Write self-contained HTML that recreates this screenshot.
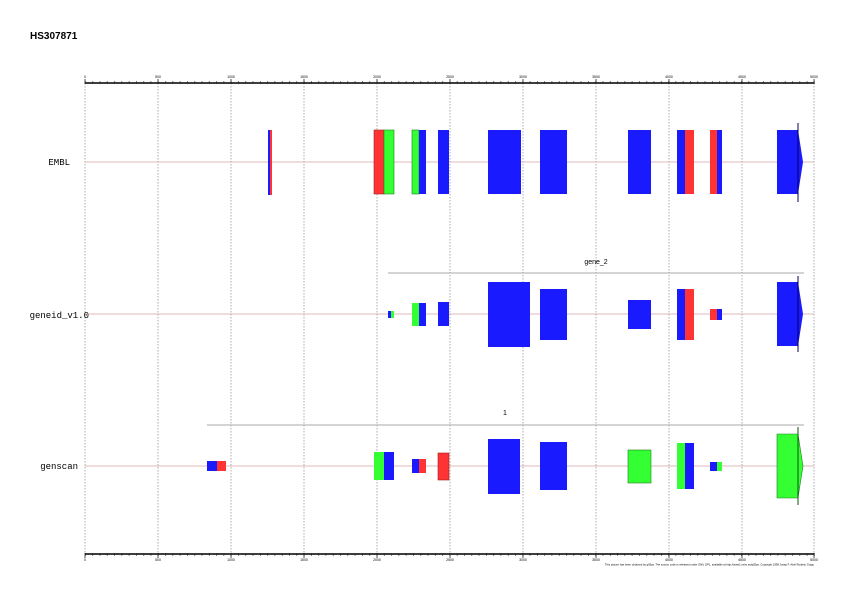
<!DOCTYPE html>
<html><head><meta charset="utf-8"><style>
html,body{margin:0;padding:0;background:#fff;}
svg{display:block;}
</style></head><body>
<svg width="842" height="595" viewBox="0 0 842 595" xmlns="http://www.w3.org/2000/svg">
<defs>
<pattern id="tk" x="85" y="0" width="7.29" height="10" patternUnits="userSpaceOnUse">
<rect x="0" y="0" width="0.7" height="10" fill="#444"/>
</pattern>
</defs>
<rect width="842" height="595" fill="#fff"/>
<text x="30" y="39" font-family="Liberation Sans, sans-serif" font-size="10" font-weight="bold" fill="#000">HS307871</text>
<!-- grid -->
<g stroke="#999" stroke-width="0.8" stroke-dasharray="1.5,1.5">
<line x1="85" y1="83" x2="85" y2="554"/><line x1="158" y1="83" x2="158" y2="554"/><line x1="231" y1="83" x2="231" y2="554"/><line x1="304" y1="83" x2="304" y2="554"/><line x1="377" y1="83" x2="377" y2="554"/><line x1="450" y1="83" x2="450" y2="554"/><line x1="523" y1="83" x2="523" y2="554"/><line x1="596" y1="83" x2="596" y2="554"/><line x1="669" y1="83" x2="669" y2="554"/><line x1="742" y1="83" x2="742" y2="554"/><line x1="814" y1="83" x2="814" y2="554"/>
</g>
<!-- minor ticks -->
<rect x="85" y="81" width="730" height="3" fill="url(#tk)"/>
<rect x="85" y="553" width="730" height="3" fill="url(#tk)"/>
<!-- major ticks -->
<g stroke="#222" stroke-width="0.8">
<line x1="85" y1="79" x2="85" y2="84"/><line x1="158" y1="79" x2="158" y2="84"/><line x1="231" y1="79" x2="231" y2="84"/><line x1="304" y1="79" x2="304" y2="84"/><line x1="377" y1="79" x2="377" y2="84"/><line x1="450" y1="79" x2="450" y2="84"/><line x1="523" y1="79" x2="523" y2="84"/><line x1="596" y1="79" x2="596" y2="84"/><line x1="669" y1="79" x2="669" y2="84"/><line x1="742" y1="79" x2="742" y2="84"/><line x1="814" y1="79" x2="814" y2="84"/>
<line x1="85" y1="553" x2="85" y2="558"/><line x1="158" y1="553" x2="158" y2="558"/><line x1="231" y1="553" x2="231" y2="558"/><line x1="304" y1="553" x2="304" y2="558"/><line x1="377" y1="553" x2="377" y2="558"/><line x1="450" y1="553" x2="450" y2="558"/><line x1="523" y1="553" x2="523" y2="558"/><line x1="596" y1="553" x2="596" y2="558"/><line x1="669" y1="553" x2="669" y2="558"/><line x1="742" y1="553" x2="742" y2="558"/><line x1="814" y1="553" x2="814" y2="558"/>
</g>
<!-- axes -->
<g stroke="#222">
<line x1="85" y1="83" x2="814" y2="83" stroke-width="1.8"/>
<line x1="85" y1="554" x2="814" y2="554" stroke-width="1.8"/>
</g>
<g font-family="Liberation Sans, sans-serif" font-size="3.5" fill="#000" text-anchor="middle">
<text x="85" y="78">0</text><text x="158" y="78">500</text><text x="231" y="78">1000</text><text x="304" y="78">1500</text><text x="377" y="78">2000</text><text x="450" y="78">2500</text><text x="523" y="78">3000</text><text x="596" y="78">3500</text><text x="669" y="78">4000</text><text x="742" y="78">4500</text><text x="814" y="78">5000</text>
<text x="85" y="561">0</text><text x="158" y="561">500</text><text x="231" y="561">1000</text><text x="304" y="561">1500</text><text x="377" y="561">2000</text><text x="450" y="561">2500</text><text x="523" y="561">3000</text><text x="596" y="561">3500</text><text x="669" y="561">4000</text><text x="742" y="561">4500</text><text x="814" y="561">5000</text>
</g>
<text x="605" y="565.5" font-family="Liberation Sans, sans-serif" font-size="2.9" fill="#000" textLength="209" lengthAdjust="spacingAndGlyphs">This picture has been obtained by gff2ps. The source code is released under GNU GPL, available at http://www1.imim.es/gff2ps. Copyright 1999 Josep F. Abril Roderic Guigo</text>
<!-- labels -->
<g font-family="Liberation Mono, monospace" font-size="9" fill="#000" text-anchor="end">
<text x="70" y="165">EMBL</text>
<text x="89" y="318">geneid_v1.0</text>
<text x="78" y="469">genscan</text>
</g>
<!-- track lines -->
<g stroke="#d9a0a0" stroke-width="0.8">
<line x1="85" y1="162" x2="814" y2="162"/>
<line x1="85" y1="314" x2="814" y2="314"/>
<line x1="85" y1="466" x2="814" y2="466"/>
</g>
<g stroke="#aaa" stroke-width="1">
<line x1="388" y1="273" x2="804" y2="273"/>
<line x1="207" y1="425" x2="804" y2="425"/>
</g>
<g font-family="Liberation Sans, sans-serif" font-size="7" fill="#000" text-anchor="middle">
<text x="596" y="264">gene_2</text>
<text x="505" y="415">1</text>
</g>
<!-- EMBL -->
<g stroke-width="0.6">
<rect x="268" y="130" width="2" height="65" fill="#1a1aff"/><rect x="270" y="130" width="2" height="65" fill="#ff3333"/>
<rect x="374" y="130" width="10" height="64" fill="#ff3333" stroke="#a02020"/><rect x="384" y="130" width="10" height="64" fill="#33ff33" stroke="#208020"/>
<rect x="412" y="130" width="7" height="64" fill="#33ff33" stroke="#208020"/><rect x="419" y="130" width="7" height="64" fill="#1a1aff"/>
<rect x="438" y="130" width="11" height="64" fill="#1a1aff"/>
<rect x="488" y="130" width="33" height="64" fill="#1a1aff"/>
<rect x="540" y="130" width="27" height="64" fill="#1a1aff"/>
<rect x="628" y="130" width="23" height="64" fill="#1a1aff"/>
<rect x="677" y="130" width="8" height="64" fill="#1a1aff"/><rect x="685" y="130" width="9" height="64" fill="#ff3333"/>
<rect x="710" y="130" width="7" height="64" fill="#ff3333"/><rect x="717" y="130" width="5" height="64" fill="#1a1aff"/>
<polygon points="777,130 798,130 803,162 798,194 777,194" fill="#1a1aff"/>
<line x1="798" y1="123" x2="798" y2="202" stroke="#000055" stroke-width="1"/>
</g>
<!-- geneid -->
<g>
<rect x="388" y="311" width="3" height="7" fill="#1a1aff"/><rect x="391" y="311" width="3" height="7" fill="#33ff33"/>
<rect x="412" y="303" width="7" height="23" fill="#33ff33"/><rect x="419" y="303" width="7" height="23" fill="#1a1aff"/>
<rect x="438" y="302" width="11" height="24" fill="#1a1aff"/>
<rect x="488" y="282" width="42" height="65" fill="#1a1aff"/>
<rect x="540" y="289" width="27" height="51" fill="#1a1aff"/>
<rect x="628" y="300" width="23" height="29" fill="#1a1aff"/>
<rect x="677" y="289" width="8" height="51" fill="#1a1aff"/><rect x="685" y="289" width="9" height="51" fill="#ff3333"/>
<rect x="710" y="309" width="7" height="11" fill="#ff3333"/><rect x="717" y="309" width="5" height="11" fill="#1a1aff"/>
<polygon points="777,282 798,282 803,314 798,346 777,346" fill="#1a1aff"/>
<line x1="798" y1="276" x2="798" y2="352" stroke="#000055" stroke-width="1"/>
</g>
<!-- genscan -->
<g>
<rect x="207" y="461" width="10" height="10" fill="#1a1aff"/><rect x="217" y="461" width="9" height="10" fill="#ff3333"/>
<rect x="374" y="452" width="10" height="28" fill="#33ff33"/><rect x="384" y="452" width="10" height="28" fill="#1a1aff"/>
<rect x="412" y="459" width="7" height="14" fill="#1a1aff"/><rect x="419" y="459" width="7" height="14" fill="#ff3333"/>
<rect x="438" y="453" width="11" height="27" fill="#ff3333" stroke="#a02020" stroke-width="0.6"/>
<rect x="488" y="439" width="32" height="55" fill="#1a1aff"/>
<rect x="540" y="442" width="27" height="48" fill="#1a1aff"/>
<rect x="628" y="450" width="23" height="33" fill="#33ff33" stroke="#208020" stroke-width="0.6"/>
<rect x="677" y="443" width="8" height="46" fill="#33ff33"/><rect x="685" y="443" width="9" height="46" fill="#1a1aff"/>
<rect x="710" y="462" width="7" height="9" fill="#1a1aff"/><rect x="717" y="462" width="5" height="9" fill="#33ff33"/>
<polygon points="777,434 798,434 803,466 798,498 777,498" fill="#33ff33" stroke="#208020" stroke-width="0.6"/>
<line x1="798" y1="427" x2="798" y2="505" stroke="#105010" stroke-width="1"/>
</g>
</svg>
</body></html>
